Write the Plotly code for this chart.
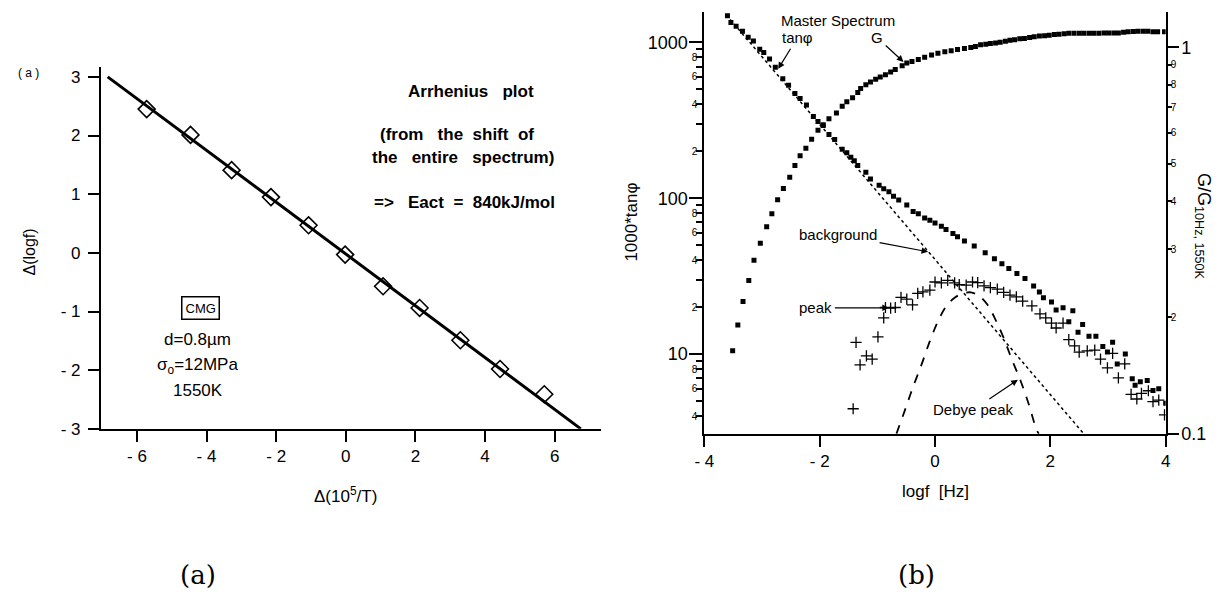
import plotly.graph_objects as go

W, H = 1225, 608

# ---------------- Panel (a): Arrhenius plot ----------------
arr_x = [-5.72, -4.46, -3.28, -2.15, -1.07, -0.02, 1.07, 2.12, 3.29, 4.43, 5.70]
arr_y = [2.45, 2.01, 1.41, 0.95, 0.47, -0.03, -0.57, -0.94, -1.49, -1.98, -2.41]
fit_x = [-6.84, 6.75]
fit_y = [3.0, -3.0]
a_xticks = [-6, -4, -2, 0, 2, 4, 6]
a_xtext = ['- 6', '- 4', '- 2', '0', '2', '4', '6']
a_yticks = [-3, -2, -1, 0, 1, 2, 3]
a_ytext = ['- 3', '- 2', '- 1', '0', '1', '2', '3']

# ---------------- Panel (b): master spectrum ----------------
tan_x = [-3.60, -3.54, -3.45, -3.34, -3.24, -3.15, -3.04, -2.97, -2.87, -2.77, -2.64, -2.54,
         -2.43, -2.34, -2.23, -2.11, -2.03, -1.94, -1.84, -1.74, -1.61, -1.53, -1.46, -1.40,
         -1.34, -1.20, -1.12, -0.97, -0.89, -0.80, -0.72, -0.63, -0.49, -0.38, -0.29, -0.18,
         -0.09, 0.00, 0.11, 0.19, 0.31, 0.39, 0.51, 0.68, 0.87, 1.03, 1.16, 1.28, 1.42, 1.56,
         1.71, 1.81, 1.88, 2.02, 2.10, 2.22, 2.39, 2.32, 2.48, 2.56, 2.67, 2.79, 2.91, 2.99,
         3.08, 3.16, 3.30, 3.42, 3.47, 3.56, 3.68, 3.78, 3.88, 4.00]
tan_v = [1480, 1340, 1270, 1180, 1080, 1020, 904, 861, 782, 692, 585, 530,
         470, 437, 396, 335, 311, 296, 256, 238, 206, 196, 183, 174,
         162, 147, 133, 121, 115, 110, 103, 97.5, 90.6, 82.2, 79.4, 74.6,
         72.1, 69.3, 66.1, 63.0, 59.4, 56.6, 53.2, 49.4, 44.7, 40.9, 38.0, 35.4, 32.9, 30.6,
         27.3, 25.0, 23.0, 21.6, 19.2, 19.8, 19.0, 16.1, 13.8, 15.5, 13.0, 13.0, 11.2, 10.3,
         11.9, 8.65, 10.0, 6.95, 6.3, 6.65, 6.76, 5.85, 6.0, 4.84]

g_x = [-3.51, -3.42, -3.33, -3.23, -3.14, -3.03, -2.92, -2.83, -2.73, -2.63, -2.52, -2.43,
       -2.34, -2.24, -2.14, -2.03, -1.94, -1.84, -1.71, -1.61, -1.53, -1.43, -1.34, -1.29,
       -1.20, -1.12, -1.03, -0.95, -0.86, -0.77, -0.69, -0.57, -0.49, -0.40, -0.29, -0.18,
       -0.06, 0.05, 0.17, 0.28, 0.39, 0.51, 0.62, 0.70, 0.79, 0.88, 0.96, 1.05, 1.13, 1.22,
       1.30, 1.38, 1.47, 1.55, 1.64, 1.72, 1.81, 1.90, 1.98, 2.07, 2.15, 2.24, 2.32, 2.41,
       2.50, 2.58, 2.67, 2.75, 2.84, 2.93, 3.01, 3.10, 3.18, 3.27, 3.35, 3.44, 3.52, 3.61,
       3.69, 3.78, 3.86, 3.98]
g_v = [0.164, 0.191, 0.220, 0.249, 0.281, 0.311, 0.343, 0.371, 0.403, 0.431, 0.461, 0.494,
       0.524, 0.548, 0.578, 0.610, 0.627, 0.653, 0.676, 0.703, 0.723, 0.740, 0.764, 0.782,
       0.800, 0.813, 0.826, 0.838, 0.849, 0.863, 0.875, 0.895, 0.910, 0.918, 0.929, 0.942,
       0.955, 0.964, 0.973, 0.979, 0.986, 0.993, 0.998, 1.004, 1.014, 1.018, 1.023, 1.025, 1.030, 1.036,
       1.042, 1.046, 1.052, 1.054, 1.059, 1.064, 1.069, 1.070, 1.074, 1.078, 1.081, 1.084, 1.086, 1.086,
       1.086, 1.086, 1.086, 1.086, 1.086, 1.088, 1.089, 1.089, 1.089, 1.093, 1.096, 1.098, 1.099, 1.099,
       1.099, 1.097, 1.096, 1.096]

peak_x = [-1.42, -1.37, -1.30, -1.19, -1.09, -0.99, -0.89, -0.86, -0.77, -0.69, -0.59, -0.49,
          -0.39, -0.30, -0.21, -0.09, 0.00, 0.11, 0.22, 0.34, 0.42, 0.54, 0.65, 0.74, 0.85,
          0.96, 1.08, 1.19, 1.30, 1.41, 1.52, 1.68, 1.82, 1.92, 2.02, 2.10, 2.22, 2.32, 2.42,
          2.50, 2.64, 2.77, 2.87, 2.99, 3.08, 3.18, 3.29, 3.40, 3.50, 3.58, 3.70, 3.78, 3.88, 3.98]
peak_v = [4.46, 11.9, 8.53, 9.75, 9.29, 12.9, 17.1, 19.9, 19.7, 19.9, 23.1, 22.5,
          20.7, 24.5, 25.1, 25.7, 29.0, 28.6, 29.7, 28.6, 27.9, 27.7, 29.0, 28.7, 27.4,
          26.7, 26.1, 24.9, 23.9, 23.3, 21.9, 20.4, 18.1, 17.1, 15.8, 14.7, 15.8, 12.4, 11.3,
          10.3, 10.5, 10.6, 9.29, 8.17, 10.1, 7.03, 8.65, 5.51, 5.15, 5.60, 5.82, 4.95, 5.07, 4.07]

bg_x = [-3.62, 2.58]
bg_v = [1500, 3.08]

debye_x = [-0.67, -0.52, -0.38, -0.23, -0.09, 0.05, 0.19, 0.34, 0.48, 0.62, 0.76, 0.91,
           1.05, 1.19, 1.33, 1.48, 1.62, 1.76, 1.80]
debye_v = [3.08, 4.39, 6.17, 8.65, 12.1, 16.2, 20.2, 23.0, 24.5, 24.9, 23.7, 20.7,
           16.6, 12.7, 9.29, 6.79, 4.84, 3.28, 3.08]

b_xticks = [-4, -2, 0, 2, 4]
b_xtext = ['- 4', '- 2', '0', '2', '4']
left_major = [10, 100, 1000]
left_major_text = ['10', '100', '1000']
left_minor = [4, 6, 8, 20, 40, 60, 80, 200, 400, 600, 800]
left_minor_text = ['4', '6', '8', '2', '4', '6', '8', '2', '4', '6', '8']
left_unlabeled = [5, 7, 9, 30, 50, 70, 90, 300, 500, 700, 900]
right_major = [0.1, 1]
right_major_text = ['0.1', '1']
right_minor = [0.2, 0.3, 0.4, 0.5, 0.6, 0.7, 0.8, 0.9]
right_minor_text = ['2', '3', '4', '5', '6', '7', '8', '9']

FONT = 'Liberation Sans'

fig = go.Figure()

# panel a
fig.add_trace(go.Scatter(x=fit_x, y=fit_y, mode='lines', line=dict(color='black', width=3),
                         xaxis='x', yaxis='y'))
fig.add_trace(go.Scatter(x=arr_x, y=arr_y, mode='markers', xaxis='x', yaxis='y',
                         marker=dict(symbol='diamond-open', size=13, color='black',
                                     line=dict(width=1.6, color='black'))))

# panel b
fig.add_trace(go.Scatter(x=bg_x, y=bg_v, mode='lines', xaxis='x2', yaxis='y2',
                         line=dict(color='black', width=1.5, dash='dot')))
fig.add_trace(go.Scatter(x=debye_x, y=debye_v, mode='lines', xaxis='x2', yaxis='y2',
                         line=dict(color='black', width=1.8, dash='dash', shape='spline')))
fig.add_trace(go.Scatter(x=tan_x, y=tan_v, mode='markers', xaxis='x2', yaxis='y2',
                         marker=dict(symbol='square', size=5, color='black')))
fig.add_trace(go.Scatter(x=peak_x, y=peak_v, mode='markers', xaxis='x2', yaxis='y2',
                         marker=dict(symbol='cross-thin', size=8, color='black',
                                     line=dict(width=1.3, color='black'))))
fig.add_trace(go.Scatter(x=g_x, y=g_v, mode='markers', xaxis='x2', yaxis='y3',
                         marker=dict(symbol='square', size=5, color='black')))
fig.add_trace(go.Scatter(x=[], y=[], xaxis='x2', yaxis='y4', mode='markers'))
fig.add_trace(go.Scatter(x=[], y=[], xaxis='x2', yaxis='y5', mode='markers'))

ax_common = dict(showline=True, linecolor='black', linewidth=2, ticks='outside',
                 tickcolor='black', tickwidth=2, showgrid=False, zeroline=False,
                 tickfont=dict(family=FONT, size=17, color='black'))

fig.update_layout(
    width=W, height=H, margin=dict(l=0, r=0, t=0, b=0),
    paper_bgcolor='white', plot_bgcolor='rgba(0,0,0,0)', showlegend=False,
    font=dict(family=FONT, color='black'),
    xaxis=dict(domain=[92 / W, 598 / W], range=[-7.035, 7.32], anchor='y',
               tickmode='array', tickvals=a_xticks, ticktext=a_xtext, ticklen=11,
               **ax_common),
    yaxis=dict(domain=[1 - 436 / H, 1 - 68 / H], range=[-3, 3.17], anchor='x',
               tickmode='array', tickvals=a_yticks, ticktext=a_ytext, ticklen=11,
               ticklabelstandoff=4, **ax_common),
    xaxis2=dict(domain=[703 / W, 1170 / W], range=[-4, 4], anchor='y2',
                tickmode='array', tickvals=b_xticks, ticktext=b_xtext, ticklen=11,
                **ax_common),
    yaxis2=dict(domain=[1 - 441 / H, 1 - 12 / H], type='log', range=[0.489, 3.196],
                anchor='x2', side='left', tickmode='array', tickvals=left_major,
                ticktext=left_major_text, ticklen=13, ticklabelstandoff=-2,
                **{**ax_common, 'tickfont': dict(family=FONT, size=18, color='black')}),
    yaxis3=dict(type='log', range=[-1, 0.0916], overlaying='y2', anchor='x2', side='right',
                tickmode='array', tickvals=right_major, ticktext=right_major_text,
                ticklen=11, ticklabelstandoff=-1,
                **{**ax_common, 'tickfont': dict(family=FONT, size=18, color='black')}),
    yaxis4=dict(type='log', range=[0.489, 3.196], overlaying='y2', anchor='x2', side='left',
                showline=False, ticks='outside', ticklen=7, tickwidth=1.5, tickcolor='black',
                tickmode='array', tickvals=left_minor, ticktext=left_minor_text,
                minor=dict(tickmode='array', tickvals=left_unlabeled, ticks='outside',
                           ticklen=7, tickwidth=1.5, tickcolor='black', showgrid=False),
                ticklabelstandoff=-3, showgrid=False, zeroline=False,
                tickfont=dict(family=FONT, size=10, color='black')),
    yaxis5=dict(type='log', range=[-1, 0.0916], overlaying='y2', anchor='x2', side='right',
                showline=False, ticks='outside', ticklen=5, tickwidth=1.5, tickcolor='black',
                tickmode='array', tickvals=right_minor, ticktext=right_minor_text,
                ticklabelstandoff=-3, showgrid=False, zeroline=False,
                tickfont=dict(family=FONT, size=10, color='black')),
)


def P(px, py):
    return px / W, 1 - py / H


anns = []


def text(px, py, s, size=15, angle=0, family=FONT, xanchor='center', **kw):
    x, y = P(px, py)
    anns.append(dict(x=x, y=y, xref='paper', yref='paper', text=s, showarrow=False,
                     textangle=angle, xanchor=xanchor, yanchor='middle',
                     font=dict(family=family, size=size, color='black'), **kw))


def arrow_label(s, x, y, ax, ay, yref='y2'):
    # text centred at pixel offset (ax, ay) from the arrow tip (x, y) in data units
    anns.append(dict(x=x, y=y, xref='x2', yref=yref, ax=ax, ay=ay, text=s,
                     showarrow=True, arrowhead=2, arrowsize=1.1, arrowwidth=1.2,
                     arrowcolor='black', standoff=0, startstandoff=1,
                     font=dict(family=FONT, size=15, color='black')))


NB = '\u00a0'
# panel a texts
text(19, 74, '(' + NB + 'a' + NB + ')', size=12)
text(467, 93, '<b>Arrhenius' + NB * 3 + 'plot</b>', size=17)
text(453, 137, '<b>(from' + NB * 3 + 'the' + NB * 2 + 'shift' + NB * 2 + 'of</b>', size=17)
text(459, 160, '<b>the' + NB * 3 + 'entire' + NB * 3 + 'spectrum)</b>', size=17)
text(460, 206, '<b>=>' + NB * 3 + 'Eact' + NB * 2 + '=' + NB * 2 + '840kJ/mol</b>', size=17)
text(193, 313, 'CMG', size=13, bordercolor='black', borderwidth=1.5, borderpad=3)
text(190, 345, 'd=0.8µm', size=17)
text(190, 372, 'σ<sub>o</sub>=12MPa', size=17)
text(190, 397, '1550K', size=17)
text(20, 256, 'Δ(logf)', size=16, angle=-90)
text(340, 503, 'Δ(10<sup>5</sup>/T)', size=17)

# panel b texts
text(838, 21, 'Master Spectrum', size=15)
arrow_label('tanφ', -2.72, 2.83, 19, -31)
arrow_label('G', -0.547, -0.038, -26, -24, yref='y3')
arrow_label('background', -0.12, 1.656, -90, -17)
arrow_label('peak', -0.80, 1.297, -73, 0)
arrow_label('Debye peak', 1.436, 0.836, -44, 30)
text(629, 226, '1000*tanφ', size=17, angle=-90)
text(1208, 230, 'G/G<sub>10Hz, 1550K</sub>', size=18, angle=90)
text(937, 500, 'logf' + NB * 2 + '[Hz]', size=17)

# captions
text(190, 585, '(a)', size=26, family='DejaVu Serif')
text(918, 585, '(b)', size=26, family='DejaVu Serif')

fig.update_layout(annotations=anns)
fig.write_html('out.html')
